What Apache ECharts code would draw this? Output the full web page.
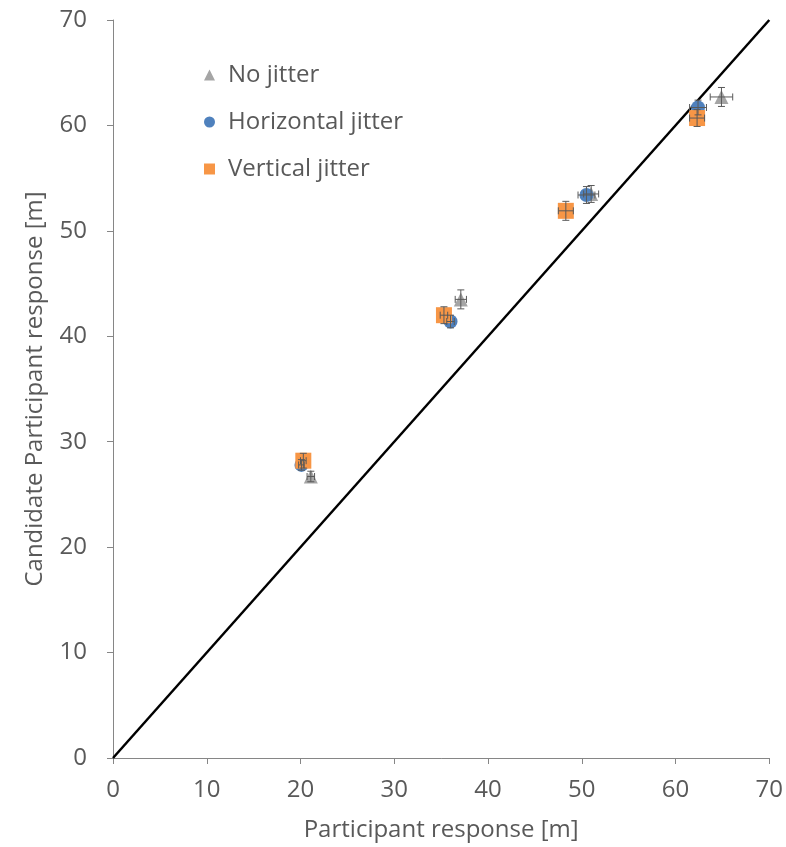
<!DOCTYPE html>
<html><head><meta charset="utf-8">
<script src="https://cdn.jsdelivr.net/npm/echarts@6/dist/echarts.min.js"></script>
<style>html,body{margin:0;padding:0;background:#fff}#c{width:786px;height:847px}</style>
</head><body><div id="c"></div>
<script>
const xTicks = [0, 10, 20, 30, 40, 50, 60, 70];
const yTicks = [0, 10, 20, 30, 40, 50, 60, 70];
const seriesNames = ['No jitter', 'Horizontal jitter', 'Vertical jitter'];
// [x, y, xErr, yErr]
const noJitter = [[21.1, 26.7, 0.4, 0.5], [37.1, 43.5, 0.6, 0.9], [51.0, 53.5, 0.8, 0.8], [64.9, 62.7, 1.2, 0.9]];
const horizontalJitter = [[20.1, 27.8, 0.3, 0.5], [36.0, 41.4, 0.4, 0.6], [50.5, 53.4, 0.9, 0.8], [62.4, 61.7, 0.9, 0.7]];
const verticalJitter = [[20.3, 28.2, 0.3, 0.7], [35.3, 42.0, 0.4, 0.8], [48.3, 51.9, 0.8, 0.9], [62.3, 60.7, 0.8, 0.8]];
const identityLine = [[0, 0], [70, 70]];

const colors = ['#A5A5A5', '#4F81BD', '#F79646'];
const symbols = ['triangle', 'circle', 'rect'];
const sizes = [14, 14, 16];
const sets = [noJitter, horizontalJitter, verticalJitter];
const font = '"Open Sans", "Liberation Sans", sans-serif';

function errRender(params, api) {
  const x = api.value(0), y = api.value(1), ex = api.value(2), ey = api.value(3);
  const c = api.coord([x, y]);
  const l = api.coord([x - ex, y]), r = api.coord([x + ex, y]);
  const t = api.coord([x, y + ey]), b = api.coord([x, y - ey]);
  const cap = 3.5;
  const st = {stroke: '#595959', lineWidth: 1};
  return {type: 'group', children: [
    {type: 'line', shape: {x1: l[0], y1: c[1], x2: r[0], y2: c[1]}, style: st},
    {type: 'line', shape: {x1: l[0], y1: c[1] - cap, x2: l[0], y2: c[1] + cap}, style: st},
    {type: 'line', shape: {x1: r[0], y1: c[1] - cap, x2: r[0], y2: c[1] + cap}, style: st},
    {type: 'line', shape: {x1: c[0], y1: t[1], x2: c[0], y2: b[1]}, style: st},
    {type: 'line', shape: {x1: c[0] - cap, y1: t[1], x2: c[0] + cap, y2: t[1]}, style: st},
    {type: 'line', shape: {x1: c[0] - cap, y1: b[1], x2: c[0] + cap, y2: b[1]}, style: st}
  ]};
}

const series = [{
  type: 'line', data: identityLine, symbol: 'none', silent: true,
  lineStyle: {color: '#000', width: 2.5}, z: 1
}];
sets.forEach((d, i) => {
  series.push({
    name: seriesNames[i], type: 'scatter', data: d.map(p => [p[0], p[1]]),
    symbol: symbols[i], symbolSize: sizes[i],
    itemStyle: {color: colors[i], opacity: 1}, z: 2 + i
  });
});
sets.forEach((d, i) => {
  series.push({
    type: 'custom', renderItem: errRender, data: d, silent: true, z: 10,
    encode: {x: 0, y: 1}
  });
});

const chart = echarts.init(document.getElementById('c'), null, {renderer: 'canvas'});
chart.setOption({
  animation: false,
  backgroundColor: '#fff',
  textStyle: {fontFamily: font},
  grid: {left: 113, right: 16, top: 20, bottom: 89},
  legend: {
    data: seriesNames, orient: 'vertical', left: 204, top: 63, padding: 0,
    itemGap: 23, itemWidth: 11, itemHeight: 11,
    textStyle: {fontSize: 24, lineHeight: 24, color: '#595959', fontFamily: font, padding: [0, 0, 0, 8]}
  },
  xAxis: {
    type: 'value', min: 0, max: 70, interval: 10,
    name: 'Participant response [m]', nameLocation: 'middle', nameGap: 60,
    nameTextStyle: {fontSize: 24, color: '#595959'},
    axisLine: {lineStyle: {color: '#868686', width: 1}},
    axisTick: {show: true, length: 6, lineStyle: {color: '#868686'}},
    axisLabel: {fontSize: 24, color: '#595959', margin: 20,
      formatter: v => xTicks.includes(v) ? String(v) : ''},
    splitLine: {show: false}
  },
  yAxis: {
    type: 'value', min: 0, max: 70, interval: 10,
    name: 'Candidate Participant response [m]', nameLocation: 'middle', nameGap: 66,
    nameTextStyle: {fontSize: 24, color: '#595959'},
    axisLine: {show: true, lineStyle: {color: '#868686', width: 1}},
    axisTick: {show: true, length: 6, lineStyle: {color: '#868686'}},
    axisLabel: {fontSize: 24, color: '#595959', margin: 26,
      formatter: v => yTicks.includes(v) ? String(v) : ''},
    splitLine: {show: false}
  },
  series: series
});
</script></body></html>
